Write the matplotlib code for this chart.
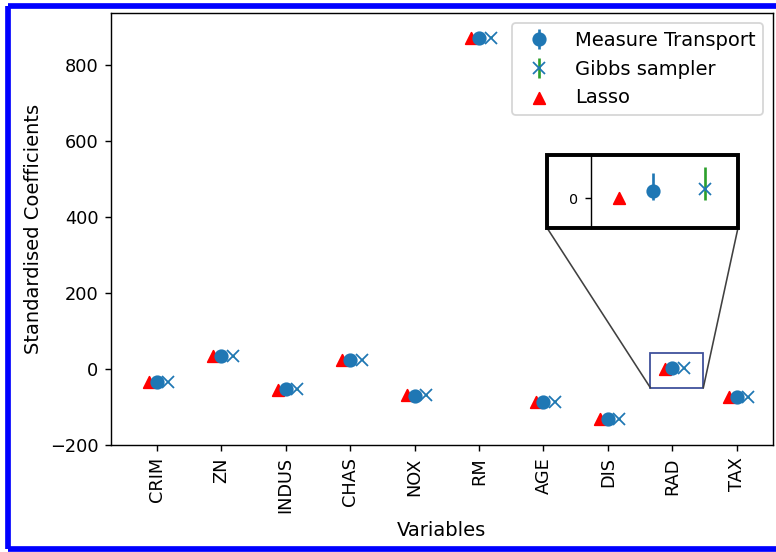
import matplotlib
matplotlib.use('Agg')
from matplotlib import pyplot as plt
from matplotlib.patches import Rectangle, ConnectionPatch
from matplotlib.lines import Line2D
import numpy as np

# Coefficients
variables = ['CRIM', 'ZN', 'INDUS', 'CHAS', 'NOX', 'RM', 'AGE', 'DIS', 'RAD', 'TAX']
mt_mean = [-35, 33, -54, 24, -71, 871, -87, -133, 1.0, -75]
mt_err_lo = [1.5, 1.5, 1.5, 1.2, 1.5, 2.0, 1.5, 1.5, 1.2, 1.5]
mt_err_hi = [2.5, 2.5, 2.5, 2.2, 2.5, 3.0, 2.5, 2.5, 2.5, 2.5]
gibbs_mean = [-34, 34, -54, 24, -70, 871, -86, -133, 1.2, -74]
gibbs_err_lo = [1.8, 1.8, 1.8, 1.5, 1.8, 2.2, 1.8, 1.8, 1.5, 1.8]
gibbs_err_hi = [3.0, 3.0, 3.0, 2.8, 3.0, 3.4, 3.0, 3.0, 3.0, 3.0]
lasso = [-35, 34, -55, 24, -70, 870, -86, -133, 0.0, -73]

x = np.arange(len(variables))
off_lasso, off_gibbs = -0.12, 0.18

fig = plt.figure(figsize=(776 / 128, 552 / 128), dpi=128)
ax = fig.add_axes([0.143, 0.194, 0.853, 0.782])


def draw(a):
    h_l = a.scatter(x + off_lasso, lasso, marker='^', color='r', s=42,
                    zorder=2, label='Lasso')
    h_m = a.errorbar(x, mt_mean, yerr=[mt_err_lo, mt_err_hi], fmt='o', color='C0',
                     ms=7, label='Measure Transport', zorder=3)
    h_g = a.errorbar(x + off_gibbs, gibbs_mean, yerr=[gibbs_err_lo, gibbs_err_hi],
                     fmt='x', color='C0', ecolor='C2', ms=7, label='Gibbs sampler',
                     zorder=3)
    return h_m, h_g, h_l


h_m, h_g, h_l = draw(ax)
ax.set_xlim(-0.71, 9.56)
ax.set_ylim(-200, 935)
ax.set_xticks(x)
ax.set_xticklabels(variables, rotation=90)
ax.set_yticks([-200, 0, 200, 400, 600, 800])
ax.set_xlabel('Variables', fontsize=11)
ax.set_ylabel('Standardised Coefficients', fontsize=11)
ax.legend([h_m, h_g, h_l], ['Measure Transport', 'Gibbs sampler', 'Lasso'],
          loc='upper right', fontsize=11)

# zoomed view around RAD
ax_in = fig.add_axes([0.7616, 0.587, 0.1894, 0.132])
draw(ax_in)
ax_in.set_xlim(7.784, 8.296)
ax_in.set_ylim(-4.1, 5.9)
ax_in.set_xticks([])
ax_in.set_yticks([0])
ax_in.tick_params(labelsize=8)
for s in ['top', 'right', 'bottom']:
    ax_in.spines[s].set_visible(False)

frame = Rectangle((0.705, 0.587), 0.951 - 0.705, 0.132, transform=fig.transFigure,
                  fill=False, ec='black', lw=2.2, zorder=10)
fig.add_artist(frame)

box = (7.66, -50, 8.48, 42)
ax.add_patch(Rectangle((box[0], box[1]), box[2] - box[0], box[3] - box[1],
                       fill=False, ec='#3d4f9a', lw=1.0, zorder=4))
for bx, fx in [(box[0], 0.705), (box[2], 0.951)]:
    con = ConnectionPatch(xyA=(bx, box[1]), coordsA=ax.transData,
                          xyB=(fx, 0.587), coordsB=fig.transFigure,
                          color='0.25', lw=0.9)
    fig.add_artist(con)

# blue frame round the picture (left, top, bottom only; right side is cut off)
xl, xr, yb, yt = 7.5 / 776, 1 - 0.5 / 776, 3 / 552, 1 - 6 / 552
for xs, ys in [([xl, xr], [yt, yt]), ([xl, xr], [yb, yb]), ([xl, xl], [yb, yt])]:
    fig.add_artist(Line2D(xs, ys, transform=fig.transFigure, color='blue', lw=3.2,
                          solid_capstyle='butt', zorder=20))

fig.savefig('out.png', dpi=128)
